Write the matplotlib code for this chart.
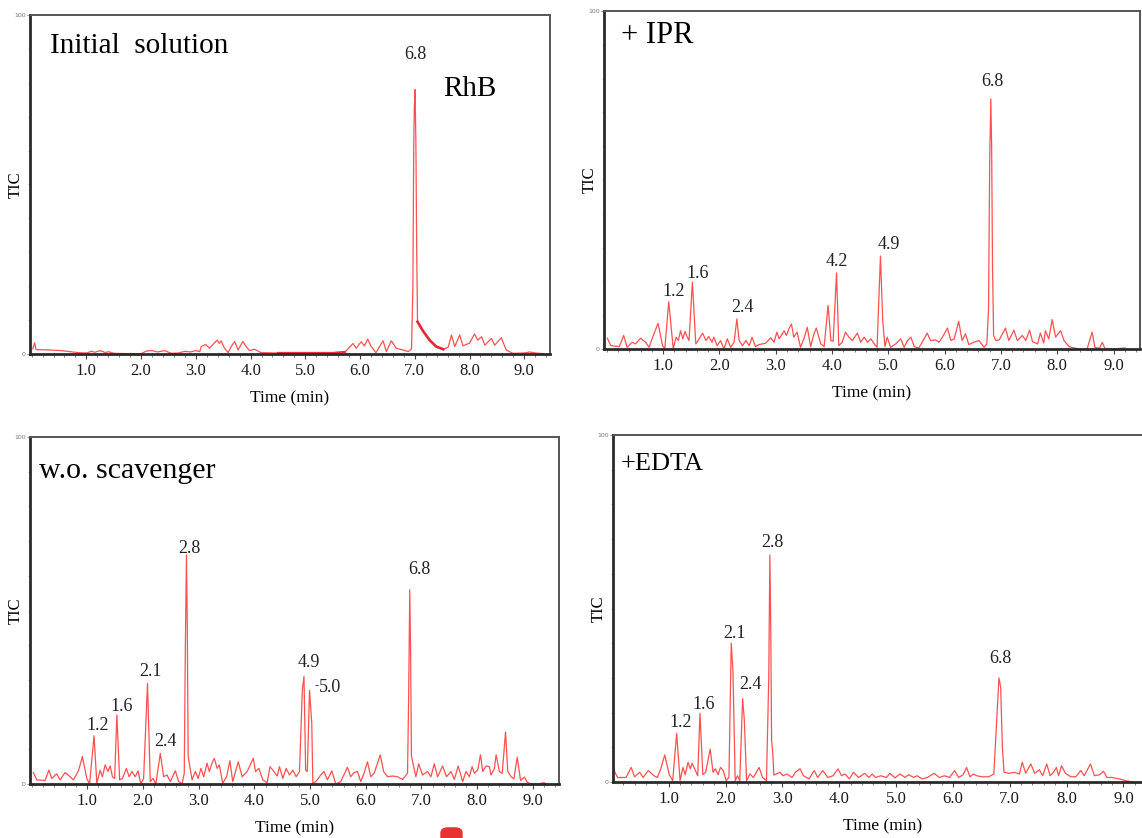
import matplotlib.pyplot as plt
from matplotlib.ticker import MultipleLocator
from matplotlib.patches import FancyBboxPatch

plt.rcParams['font.family'] = ['Liberation Serif', 'DejaVu Serif']

# ---- data (time in min, TIC in % full scale) ----

# Initial solution
init_t = [0.02, 0.055, 0.08, 0.3, 0.54, 0.85, 1.0, 1.1, 1.15, 1.25, 1.35, 1.4, 1.5, 1.76,
          2.0, 2.1, 2.2, 2.3, 2.43, 2.55, 2.68, 2.8, 2.9, 3.0, 3.07, 3.10, 3.18, 3.25, 3.34,
          3.39, 3.43, 3.46, 3.52, 3.59, 3.65, 3.71, 3.77, 3.86, 3.92, 3.98, 4.07, 4.19, 4.5,
          5.0, 5.5, 5.72, 5.75, 5.87, 5.93, 6.02, 6.08, 6.14, 6.20, 6.29, 6.42, 6.48, 6.57,
          6.66, 6.78, 6.88, 6.94, 6.965, 6.98, 6.99, 7.005, 7.02, 7.035, 7.05, 7.15, 7.27,
          7.39, 7.52, 7.61, 7.67, 7.73, 7.82, 7.88, 8.0, 8.09, 8.15, 8.22, 8.28, 8.4, 8.46,
          8.58, 8.67, 8.79, 9.0, 9.1, 9.2, 9.35]
init_tic = [1.5, 3.3, 1.3, 1.2, 1.0, 0.4, 0.3, 0.8, 0.5, 1.0, 0.4, 0.7, 0.2, 0.1,
            0.1, 0.9, 1.0, 0.6, 1.0, 0.2, 0.3, 0.8, 0.6, 1.0, 0.7, 2.2, 2.8, 1.7, 3.3,
            4.1, 3.1, 3.9, 1.8, 0.4, 2.3, 3.7, 1.2, 3.7, 2.2, 1.0, 1.4, 0.4, 0.3,
            0.3, 0.3, 0.6, 1.0, 3.1, 1.7, 3.6, 2.4, 4.4, 2.3, 0.4, 3.9, 0.7, 3.9,
            1.7, 1.2, 0.7, 1.5, 20, 60, 72, 78, 62, 30, 9.5, 6.8, 4.1,
            2.2, 1.4, 2.0, 5.6, 2.2, 5.6, 2.4, 3.2, 5.9, 4.1, 5.1, 2.6, 4.6, 2.6,
            4.8, 1.2, 0.2, 0.3, 0.6, 0.3, 0.1]
init_lab = ['6.8']
init_lab_t = [7.01]
init_lab_y = [88.4]

# + IPR
ipr_t = [0.01, 0.07, 0.22, 0.30, 0.36, 0.45, 0.51, 0.60, 0.69, 0.75, 0.81, 0.91, 0.99, 1.03,
         1.10, 1.18, 1.23, 1.27, 1.31, 1.35, 1.39, 1.43, 1.46, 1.52, 1.58, 1.64, 1.70, 1.76,
         1.81, 1.87, 1.90, 1.96, 2.02, 2.08, 2.14, 2.20, 2.26, 2.31, 2.35, 2.41, 2.47, 2.53,
         2.58, 2.64, 2.70, 2.82, 2.91, 2.97, 3.02, 3.06, 3.15, 3.19, 3.24, 3.28, 3.32, 3.38,
         3.44, 3.50, 3.56, 3.62, 3.68, 3.72, 3.80, 3.86, 3.93, 3.98, 4.02, 4.08, 4.12, 4.18,
         4.24, 4.30, 4.36, 4.45, 4.51, 4.57, 4.63, 4.69, 4.75, 4.80, 4.86, 4.90, 4.94, 4.98,
         5.04, 5.13, 5.22, 5.28, 5.34, 5.40, 5.46, 5.54, 5.60, 5.69, 5.75, 5.84, 5.90, 5.96,
         6.05, 6.11, 6.17, 6.25, 6.31, 6.37, 6.43, 6.52, 6.61, 6.70, 6.75, 6.78, 6.80, 6.82,
         6.835, 6.85, 6.87, 6.91, 6.97, 7.08, 7.14, 7.23, 7.29, 7.38, 7.44, 7.51, 7.56, 7.65,
         7.70, 7.76, 7.79, 7.85, 7.91, 7.97, 8.06, 8.12, 8.21, 8.30, 8.39, 8.53, 8.62, 8.67,
         8.75, 8.80, 8.85, 9.0, 9.2]
ipr_tic = [3.2, 1.0, 0.7, 4.0, 0.5, 2.0, 1.5, 3.2, 2.0, 0.5, 3.3, 7.6, 1.0, 0.2,
           14, 0.0, 3.5, 2.5, 5.4, 3.0, 5.2, 3.5, 2.5, 19.8, 1.5, 3.0, 4.7, 2.5,
           3.7, 2.0, 3.5, 1.0, 2.5, 0.0, 3.0, 0.5, 2.0, 8.9, 2.5, 1.0, 2.5, 1.0,
           3.5, 0.7, 1.3, 1.7, 3.3, 2.0, 5.0, 3.0, 5.4, 4.0, 6.2, 7.4, 3.5, 5.0,
           0.5, 3.0, 6.4, 0.7, 4.5, 6.2, 1.5, 0.7, 12.9, 2.5, 2.3, 22.5, 1.0, 2.0,
           5.0, 3.5, 2.5, 4.7, 2.0, 3.5, 2.0, 3.0, 1.5, 0.5, 27.5, 8.4, 0.7, 3.5,
           0.5, 1.5, 3.0, 0.5, 2.5, 3.5, 0.7, 0.3, 2.0, 4.7, 2.5, 2.7, 2.0, 3.5,
           6.2, 2.5, 3.0, 8.2, 2.5, 4.5, 1.3, 2.0, 2.5, 0.5, 1.5, 12, 55, 74,
           60, 25, 4, 2.5, 2.7, 6.2, 2.5, 5.6, 2.5, 4.0, 2.5, 5.6, 2.2, 1.5,
           4.7, 1.8, 5.4, 3.0, 8.7, 3.5, 5.4, 2.5, 0.7, 0.3, 0.0, 0.0, 5.0, 0.5,
           0.2, 2.0, 0.0, 0.0, 0.3]
ipr_lab = ['1.2', '1.6', '2.4', '4.2', '4.9', '6.8']
ipr_lab_t = [1.18, 1.61, 2.41, 4.09, 5.01, 6.84]
ipr_lab_y = [17.0, 22.2, 12.4, 25.8, 30.8, 79.0]

# w.o. scavenger
wo_t = [0.03, 0.09, 0.24, 0.31, 0.36, 0.45, 0.51, 0.60, 0.69, 0.75, 0.84, 0.91, 0.99, 1.04,
        1.12, 1.17, 1.23, 1.27, 1.32, 1.37, 1.41, 1.45, 1.49, 1.53, 1.58, 1.63, 1.70, 1.75,
        1.80, 1.86, 1.91, 1.96, 2.01, 2.08, 2.13, 2.18, 2.23, 2.31, 2.37, 2.43, 2.49, 2.58,
        2.64, 2.70, 2.74, 2.76, 2.78, 2.795, 2.81, 2.88, 2.94, 2.99, 3.04, 3.09, 3.15, 3.19,
        3.24, 3.28, 3.33, 3.37, 3.43, 3.50, 3.56, 3.61, 3.71, 3.78, 3.87, 3.98, 4.02, 4.08,
        4.15, 4.23, 4.28, 4.35, 4.41, 4.45, 4.51, 4.57, 4.63, 4.69, 4.75, 4.81, 4.86, 4.89,
        4.92, 4.95, 4.99, 5.03, 5.05, 5.13, 5.19, 5.25, 5.31, 5.39, 5.46, 5.55, 5.67, 5.73,
        5.79, 5.85, 5.91, 5.97, 6.03, 6.09, 6.15, 6.26, 6.32, 6.39, 6.48, 6.57, 6.66, 6.75,
        6.77, 6.79, 6.805, 6.82, 6.90, 6.95, 7.02, 7.11, 7.17, 7.23, 7.29, 7.38, 7.45, 7.53,
        7.59, 7.66, 7.74, 7.80, 7.86, 7.91, 7.95, 8.01, 8.06, 8.10, 8.16, 8.22, 8.25, 8.31,
        8.34, 8.40, 8.45, 8.51, 8.55, 8.61, 8.66, 8.72, 8.78, 8.85, 8.90, 8.97, 9.1, 9.2, 9.25]
wo_tic = [3.3, 1.2, 1.0, 4.0, 1.6, 2.9, 1.2, 3.3, 2.1, 1.2, 3.8, 7.9, 1.6, 0.0,
          13.9, 0.2, 4.0, 2.1, 5.5, 3.6, 5.2, 2.1, 1.6, 19.9, 1.2, 1.6, 4.5, 2.1,
          3.6, 2.1, 3.8, 0.0, 1.6, 29, 0.7, 1.6, 0.0, 8.8, 2.1, 2.6, 0.7, 3.8,
          0.7, 0.0, 3.0, 40, 66, 45, 8, 1.2, 3.6, 1.6, 4.5, 2.1, 6.0, 3.6,
          6.1, 7.4, 4.5, 5.5, 0.2, 2.1, 6.7, 0.7, 6.4, 2.1, 3.6, 7.4, 3.6, 4.5,
          1.2, 0.4, 5.0, 3.6, 2.3, 5.0, 1.6, 4.5, 2.6, 4.0, 2.1, 3.6, 27, 31,
          4.0, 3.6, 27, 17.5, 0.0, 1.2, 2.6, 3.6, 1.2, 3.8, 0.0, 0.7, 4.8, 2.1,
          3.3, 3.6, 0.7, 3.1, 6.4, 2.1, 3.1, 8.4, 3.6, 2.1, 2.3, 2.1, 1.3, 3.1,
          25, 56, 38, 8, 2.1, 5.8, 2.6, 3.6, 2.1, 5.8, 2.1, 5.2, 2.1, 3.6,
          1.3, 5.2, 0.7, 3.6, 2.1, 5.0, 3.1, 4.0, 8.4, 3.6, 5.2, 5.0, 2.6, 4.5,
          8.4, 3.6, 3.1, 15, 3.6, 2.1, 1.5, 7.7, 1.0, 2.0, 0.5, 0.0, 0.0, 0.4, 0.0]
wo_lab = ['1.2', '1.6', '2.1', '2.4', '2.8', '4.9', '5.0', '6.8']
wo_lab_t = [1.19, 1.62, 2.14, 2.41, 2.83, 4.98, 5.36, 6.96]
wo_lab_y = [17.0, 22.3, 32.4, 12.2, 68.0, 34.9, 27.7, 61.7]

# +EDTA
edta_t = [0.04, 0.10, 0.25, 0.34, 0.40, 0.49, 0.55, 0.64, 0.74, 0.80, 0.86, 0.93, 1.01, 1.07,
          1.14, 1.20, 1.25, 1.29, 1.34, 1.38, 1.41, 1.47, 1.51, 1.55, 1.60, 1.65, 1.73, 1.78,
          1.82, 1.87, 1.91, 1.96, 2.01, 2.06, 2.10, 2.13, 2.17, 2.21, 2.25, 2.30, 2.33, 2.37,
          2.43, 2.49, 2.59, 2.65, 2.72, 2.76, 2.78, 2.795, 2.81, 2.83, 2.85, 2.96, 3.01, 3.08,
          3.17, 3.23, 3.31, 3.37, 3.47, 3.56, 3.62, 3.71, 3.80, 3.89, 3.98, 4.04, 4.10, 4.18,
          4.25, 4.34, 4.45, 4.52, 4.58, 4.64, 4.73, 4.83, 4.89, 4.98, 5.07, 5.16, 5.22, 5.31,
          5.37, 5.46, 5.55, 5.67, 5.76, 5.85, 5.94, 6.03, 6.10, 6.18, 6.24, 6.30, 6.36, 6.42,
          6.51, 6.63, 6.72, 6.76, 6.81, 6.84, 6.87, 6.90, 6.99, 7.08, 7.17, 7.22, 7.28, 7.37,
          7.44, 7.52, 7.58, 7.65, 7.71, 7.77, 7.82, 7.86, 7.91, 7.98, 8.07, 8.16, 8.25, 8.31,
          8.42, 8.49, 8.58, 8.65, 8.71, 8.80, 8.92, 9.04, 9.16]
edta_tic = [3.3, 1.3, 1.3, 4.2, 1.5, 2.8, 1.3, 3.3, 1.8, 1.3, 3.8, 7.8, 2.1, 0.4,
            14, 0.4, 4.2, 2.1, 5.7, 3.8, 5.4, 3.3, 1.8, 19.8, 2.1, 2.8, 9.5, 2.8,
            3.8, 2.1, 4.2, 3.3, 0.4, 1.3, 40, 32, 0.4, 1.8, 0.4, 24, 18, 0.4,
            2.3, 1.3, 4.2, 1.3, 0.4, 30, 65.4, 45, 12, 8.6, 2.0, 2.8, 1.8, 2.3,
            1.3, 2.8, 3.8, 1.8, 0.9, 3.3, 1.3, 3.3, 1.3, 1.8, 3.8, 1.8, 2.3, 0.9,
            2.8, 1.3, 2.5, 1.3, 2.3, 1.3, 1.8, 1.3, 2.5, 1.2, 2.3, 1.3, 2.1, 1.3,
            1.8, 0.9, 1.3, 2.5, 1.3, 1.8, 1.3, 3.3, 1.3, 2.1, 4.2, 1.5, 2.3, 1.8,
            1.5, 1.5, 2.3, 14.8, 30, 27.3, 10, 2.8, 2.5, 2.8, 2.3, 5.7, 2.5, 5.2,
            2.5, 3.5, 1.8, 5.2, 1.8, 2.8, 4.2, 1.8, 4.7, 2.5, 1.5, 1.5, 3.3, 1.8,
            5.2, 1.8, 2.1, 3.1, 1.3, 1.3, 0.9, 0.4, 0.0]
edta_lab = ['1.2', '1.6', '2.1', '2.4', '2.8', '6.8']
edta_lab_t = [1.21, 1.62, 2.16, 2.43, 2.83, 6.84]
edta_lab_y = [17.1, 22.2, 42.9, 28.0, 69.0, 35.7]

# ---- figure ----
W, H = 1142, 838
fig = plt.figure(figsize=(W / 100, H / 100), dpi=100)


def make_ax(left, top, right, bottom, xlim):
    ax = fig.add_axes([left / W, 1 - bottom / H, (right - left) / W, (bottom - top) / H])
    ax.set_xlim(*xlim)
    ax.set_ylim(0, 100)
    for side in ['left', 'bottom']:
        ax.spines[side].set_linewidth(2.0)
        ax.spines[side].set_color('#2a2a2a')
    for side in ['top', 'right']:
        ax.spines[side].set_linewidth(1.4)
        ax.spines[side].set_color('#555555')
    ax.set_xticks(range(1, 10))
    ax.set_xticklabels([f'{v:.1f}' for v in range(1, 10)])
    ax.xaxis.set_minor_locator(MultipleLocator(0.2))
    ax.tick_params(axis='x', which='major', length=3.5, width=0.8, colors='#444444',
                   labelsize=12, labelcolor='#1a1a1a', pad=3)
    ax.tick_params(axis='x', which='minor', length=2, width=0.6, colors='#666666')
    ax.set_yticks([0, 100])
    ax.set_yticklabels(['0', '100'], family='DejaVu Sans')
    ax.yaxis.set_minor_locator(MultipleLocator(10))
    ax.tick_params(axis='y', which='major', length=2, width=0.6, colors='#777777',
                   labelsize=4.5, labelcolor='#777777', pad=1)
    ax.tick_params(axis='y', which='minor', length=1.2, width=0.5, colors='#999999')
    ax.set_xlabel('Time (min)', fontsize=12.5, labelpad=8)
    ax.set_ylabel('TIC', fontsize=12)
    ax.yaxis.set_label_coords(-0.012, 0.5)
    return ax


line_kw = dict(color='#ff5050', lw=0.9)
lab_kw = dict(fontsize=13, ha='center', va='center', color='#222222')

# Initial solution
ax1 = make_ax(30, 15, 550, 354, (-0.03, 9.47))
ax1.plot(init_t, init_tic, **line_kw)
# overlapping scans make the flat stretch and the tail of the RhB peak look heavier
ax1.plot(init_t[42:46], init_tic[42:46], color='#e8303a', lw=1.6)
ax1.plot(init_t[67:72], init_tic[67:72], color='#e02a35', lw=1.9)
for s, x, y in zip(init_lab, init_lab_t, init_lab_y):
    ax1.text(x, y, s, **lab_kw)
ax1.text(0.038, 0.888, 'Initial  solution', transform=ax1.transAxes, fontsize=21,
         va='baseline', ha='left')
ax1.text(7.52, 76, 'RhB', fontsize=21, va='baseline', ha='left')

# + IPR
ax2 = make_ax(604, 11, 1140, 349, (-0.05, 9.47))
ax2.plot(ipr_t, ipr_tic, **line_kw)
for s, x, y in zip(ipr_lab, ipr_lab_t, ipr_lab_y):
    ax2.text(x, y, s, **lab_kw)
ax2.text(0.032, 0.905, '+ IPR', transform=ax2.transAxes, fontsize=22,
         va='baseline', ha='left')

# w.o. scavenger
ax3 = make_ax(30, 437, 559, 784, (-0.03, 9.47))
ax3.plot(wo_t, wo_tic, **line_kw)
for s, x, y in zip(wo_lab, wo_lab_t, wo_lab_y):
    ax3.text(x, y, s, **lab_kw)
ax3.text(5.12, 28.3, '-', fontsize=9, ha='center', va='center', color='#444444')
ax3.text(0.017, 0.882, 'w.o. scavenger', transform=ax3.transAxes, fontsize=21.5,
         va='baseline', ha='left')

# +EDTA
ax4 = make_ax(613, 435, 1153, 782, (0.02, 9.52))
ax4.plot(edta_t, edta_tic, **line_kw)
for s, x, y in zip(edta_lab, edta_lab_t, edta_lab_y):
    ax4.text(x, y, s, **lab_kw)
ax4.text(0.015, 0.90, '+EDTA', transform=ax4.transAxes, fontsize=19,
         va='baseline', ha='left')

# small red badge cut off at the bottom edge of the screenshot
fig.patches.append(FancyBboxPatch((441 / W, -0.01), 21 / W, 0.022,
                                  boxstyle='round,pad=0,rounding_size=0.006',
                                  transform=fig.transFigure, color='#e8322f'))

fig.savefig('out.png', dpi=100)
